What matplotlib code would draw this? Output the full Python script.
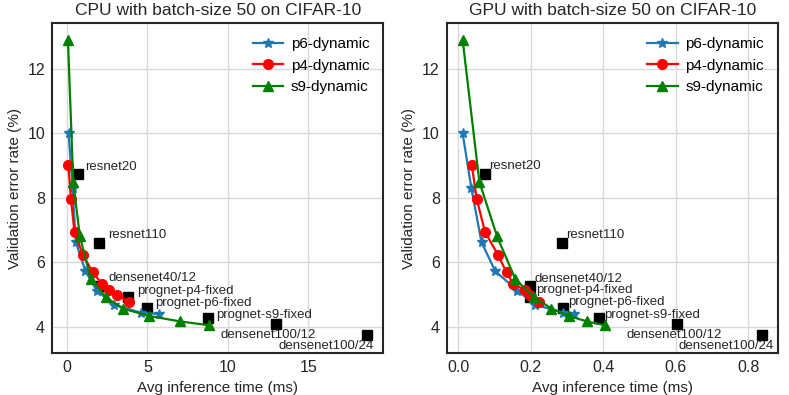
import matplotlib
matplotlib.use("Agg")
import matplotlib.pyplot as plt

plt.rcParams['font.family'] = ['Liberation Sans', 'DejaVu Sans']

# -----------------------------
# Dynamic models (error rate shared, time per device)
# -----------------------------
P6_ERR = [10.0, 8.3, 6.62, 5.72, 5.12, 4.68, 4.43, 4.39]
P6_CPU = [0.1, 0.35, 0.55, 1.15, 1.85, 2.9, 4.6, 5.7]
P6_GPU = [0.012, 0.036, 0.064, 0.102, 0.163, 0.212, 0.29, 0.318]

P4_ERR = [9.03, 7.95, 6.93, 6.22, 5.68, 5.33, 5.13, 4.98, 4.77]
P4_CPU = [0.08, 0.25, 0.47, 0.99, 1.61, 2.17, 2.64, 3.1, 3.83]
P4_GPU = [0.037, 0.051, 0.074, 0.11, 0.133, 0.152, 0.184, 0.198, 0.223]

S9_ERR = [12.9, 8.5, 6.8, 5.48, 4.92, 4.56, 4.33, 4.16, 4.04]
S9_CPU = [0.06, 0.39, 0.8, 1.48, 2.4, 3.46, 5.1, 7.03, 8.83]
S9_GPU = [0.012, 0.058, 0.107, 0.157, 0.208, 0.257, 0.305, 0.355, 0.404]

# -----------------------------
# Fixed baselines
# -----------------------------
FIXED_NAMES = ['resnet20', 'resnet110', 'densenet40/12', 'prognet-p4-fixed',
               'prognet-p6-fixed', 'prognet-s9-fixed', 'densenet100/12', 'densenet100/24']
FIXED_ERR = [8.75, 6.61, 5.26, 4.91, 4.57, 4.26, 4.08, 3.73]
FIXED_CPU = [0.66, 2.02, 2.05, 3.82, 4.97, 8.73, 12.99, 18.62]
FIXED_GPU = [0.074, 0.285, 0.198, 0.198, 0.29, 0.388, 0.6025, 0.837]

# label offsets in pixels (to left edge / vertical centre of text, +y is down)
CPU_LABEL_OFF = [(7.7, -6.7), (9, -7.7), (9, -7.7), (9, -6.3), (8.3, -5.2), (8.7, -3.3), (-56, 11), (-88.7, 11)]
GPU_LABEL_OFF = [(4.3, -7.3), (4, -7.7), (4.3, -7), (6, -7.3), (5, -6), (5, -3.3), (-50, 11), (-83.7, 11)]

DPI = 100
fig = plt.figure(figsize=(7.89, 3.95), dpi=DPI)


def draw_panel(ax, p6_t, p4_t, s9_t, fixed_t, label_off, title, xlim, xticks, xfmt):
    ax.set_facecolor('white')
    ax.grid(True, color='0.85', linewidth=1.0, zorder=0)
    ax.set_axisbelow(True)

    ax.plot(fixed_t, FIXED_ERR, 's', color='black', markersize=6.5, linestyle='none', zorder=2)
    for name, x, y, (dx, dy) in zip(FIXED_NAMES, fixed_t, FIXED_ERR, label_off):
        ax.annotate(name, (x, y), xytext=(dx * 72 / DPI, -dy * 72 / DPI), textcoords='offset points',
                    ha='left', va='center', fontsize=9.5, color='0.15', zorder=4)

    ax.plot(p6_t, P6_ERR, '-*', color='#1f77b4', linewidth=1.6, markersize=7, label='p6-dynamic', zorder=3)
    ax.plot(p4_t, P4_ERR, '-o', color='red', linewidth=1.6, markersize=7, label='p4-dynamic', zorder=3)
    ax.plot(s9_t, S9_ERR, '-^', color='green', linewidth=1.6, markersize=7, label='s9-dynamic', zorder=3)

    ax.set_xlim(*xlim)
    ax.set_ylim(3.17, 13.42)
    ax.set_xticks(xticks)
    ax.set_xticklabels([xfmt.format(t) for t in xticks])
    ax.set_yticks([4, 6, 8, 10, 12])
    ax.tick_params(length=0, labelsize=11.5, pad=5, colors='0.15')

    for s in ax.spines.values():
        s.set_color('0.15')
        s.set_linewidth(1.5)

    ax.set_xlabel('Avg inference time (ms)', fontsize=11, color='0.15')
    ax.set_ylabel('Validation error rate (%)', fontsize=11, color='0.15')
    ax.set_title(title, fontsize=12.5, color='0.15', pad=6)
    ax.legend(loc='upper right', frameon=False, fontsize=11, handlelength=2.0,
              handletextpad=0.5, labelspacing=0.5)


ax1 = fig.add_axes([52 / 789, 1 - 353.3 / 395, (383.3 - 52) / 789, (353.3 - 23.3) / 395])
ax2 = fig.add_axes([446.7 / 789, 1 - 353.3 / 395, (777.7 - 446.7) / 789, (353.3 - 23.3) / 395])

draw_panel(ax1, P6_CPU, P4_CPU, S9_CPU, FIXED_CPU, CPU_LABEL_OFF,
           'CPU with batch-size 50 on CIFAR-10', (-0.93, 19.65), [0, 5, 10, 15], '{:d}')
draw_panel(ax2, P6_GPU, P4_GPU, S9_GPU, FIXED_GPU, GPU_LABEL_OFF,
           'GPU with batch-size 50 on CIFAR-10', (-0.032, 0.881), [0.0, 0.2, 0.4, 0.6, 0.8], '{:.1f}')

fig.savefig('out.png', dpi=DPI)
